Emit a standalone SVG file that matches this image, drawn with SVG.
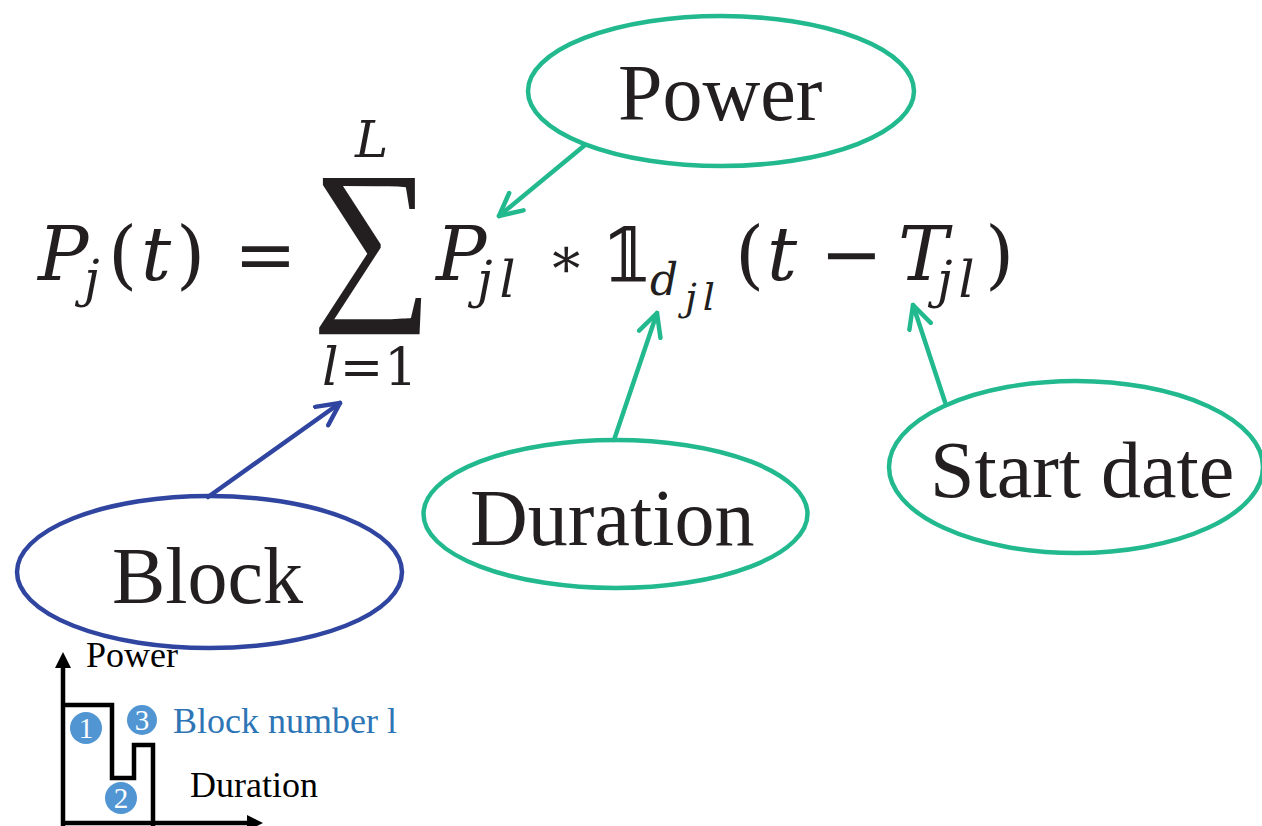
<svg xmlns="http://www.w3.org/2000/svg" width="1262" height="826" viewBox="0 0 1262 826">
<style>
.lbl{font-family:"Liberation Serif","Times New Roman",serif;font-size:80px;fill:#231f20}
.ell{fill:none;stroke-width:4.5}
.g{stroke:#22b98f}
.b{stroke:#2f45a0}
.m{font-family:"DejaVu Serif",serif;fill:#231f20}
.i{font-style:italic}
.sm{font-family:"Liberation Serif","Times New Roman",serif;font-size:36px}
.num{font-family:"Liberation Serif",serif;font-size:29px;fill:#fff;text-anchor:middle}
.circ{fill:#5196d3}
.conn{fill:none;stroke-width:4.5;stroke-linecap:round}
</style>
<defs>
<marker id="ag" viewBox="0 0 12 12" refX="11" refY="6" markerWidth="6" markerHeight="6" markerUnits="strokeWidth" orient="auto">
<path d="M1,1 L11,6 L1,11" fill="none" stroke="#22b98f" stroke-width="2" stroke-linecap="round" stroke-linejoin="round"/>
</marker>
<marker id="ab" viewBox="0 0 12 12" refX="11" refY="6" markerWidth="6" markerHeight="6" markerUnits="strokeWidth" orient="auto">
<path d="M1,1 L11,6 L1,11" fill="none" stroke="#2f45a0" stroke-width="2" stroke-linecap="round" stroke-linejoin="round"/>
</marker>
</defs>
<rect width="1262" height="826" fill="#fff"/>

<g id="formula">
<text class="m i" x="38" y="280" font-size="75">P</text>
<text class="m i" x="84" y="296" font-size="50">j</text>
<text class="m" x="108" y="280" font-size="75">(</text>
<text class="m i" x="141" y="280" font-size="75">t</text>
<text class="m" x="176" y="280" font-size="75">)</text>
<text class="m" x="234" y="280" font-size="75">=</text>
<text class="m i" x="355" y="157" font-size="50">L</text>
<text style="font-family:'Liberation Serif',serif" fill="#231f20" x="311.5" y="296" font-size="180" transform="translate(311.5,296) scale(0.947,1) translate(-311.5,-296)">∑</text>
<text class="m" x="322" y="385" font-size="52" letter-spacing="1"><tspan class="i">l</tspan>=1</text>
<text class="m i" x="436" y="280" font-size="75">P</text>
<text class="m i" x="477" y="297" font-size="50" letter-spacing="7">jl</text>
<text class="m" x="547" y="277" font-size="56">∗</text>
<text class="m" x="601" y="282" font-size="75" style="font-family:'DejaVu Serif','DejaVu Sans',serif">𝟙</text>
<text class="m i" x="650" y="295" font-size="44">d</text>
<text class="m i" x="685" y="310" font-size="38" letter-spacing="6">jl</text>
<text class="m" x="735" y="280" font-size="75">(</text>
<text class="m i" x="767" y="280" font-size="75">t</text>
<text class="m" x="820" y="280" font-size="75">−</text>
<text class="m i" x="898" y="280" font-size="75">T</text>
<text class="m i" x="937" y="297" font-size="50" letter-spacing="6">jl</text>
<text class="m" x="985" y="280" font-size="75">)</text>
</g>

<g id="power">
<ellipse class="ell g" cx="721" cy="91" rx="193" ry="75"/>
<text class="lbl" x="618" y="120">Power</text>
</g>
<g id="duration">
<ellipse class="ell g" cx="615.5" cy="514" rx="192" ry="74"/>
<text class="lbl" x="470" y="545">Duration</text>
</g>
<g id="startdate">
<ellipse class="ell g" cx="1076" cy="467" rx="187" ry="86"/>
<text class="lbl" x="930" y="497">Start date</text>
</g>
<g id="block">
<ellipse class="ell b" cx="209.5" cy="572" rx="192.5" ry="76"/>
<text class="lbl" x="112" y="603">Block</text>
</g>

<g id="connectors">
<line class="conn g" x1="585" y1="145" x2="499" y2="216" marker-end="url(#ag)"/>
<line class="conn g" x1="614" y1="440" x2="657" y2="313" marker-end="url(#ag)"/>
<line class="conn g" x1="945" y1="402" x2="913" y2="305" marker-end="url(#ag)"/>
<line class="conn b" x1="208" y1="497" x2="340" y2="403" marker-end="url(#ab)"/>
</g>

<g id="chart">
<line x1="63" y1="664" x2="63" y2="826" stroke="#000" stroke-width="4.5"/>
<polygon points="63,652 55,668 71,668" fill="#000"/>
<line x1="61" y1="823" x2="250" y2="823" stroke="#000" stroke-width="4.5"/>
<polygon points="263,823 247,815 247,831" fill="#000"/>
<path d="M63,705 H112 V778 H134 V745 H153 V826" fill="none" stroke="#000" stroke-width="4.5"/>
<text class="sm" x="86" y="667" fill="#000">Power</text>
<text class="sm" x="173" y="733" fill="#2e75b6">Block number l</text>
<text class="sm" x="190" y="797" fill="#000">Duration</text>
<circle class="circ" cx="86" cy="728" r="16"/>
<text class="num" x="86" y="738">1</text>
<circle class="circ" cx="142" cy="720" r="15"/>
<text class="num" x="142" y="730">3</text>
<circle class="circ" cx="121" cy="798" r="16"/>
<text class="num" x="121" y="808">2</text>
</g>
</svg>
